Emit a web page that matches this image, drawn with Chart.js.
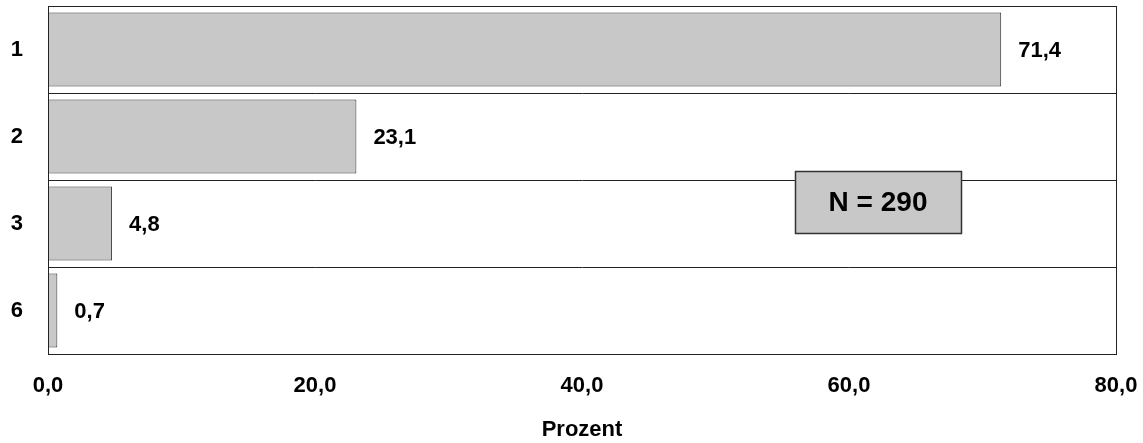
<!DOCTYPE html>
<html>
<head>
<meta charset="utf-8">
<script src="https://cdn.jsdelivr.net/npm/chart.js@4"></script>
<style>
  html, body { margin: 0; padding: 0; background: #fff; }
  #wrap { width: 1143px; height: 443px; position: relative; }
</style>
</head>
<body>
<div id="wrap"><canvas id="c" width="1143" height="443"></canvas></div>
<script>
// ---- data ----
const categories = ['1', '2', '3', '6'];
const values = [71.4, 23.1, 4.8, 0.7];
const xTickValues = [0, 20, 40, 60, 80];
const axisTitle = 'Prozent';
const noteText = 'N = 290';
// note box placement in data units: [xFrom, xTo] and [categoryIndexFrom, categoryIndexTo]
const noteX = [55.95, 68.4];
const noteY = [1.40, 2.11];

const FONT = '"Liberation Sans", Arial, sans-serif';
const fmt = v => v.toFixed(1).replace('.', ',');

const framePlugin = {
  id: 'frame',
  afterDatasetsDraw(chart) {
    const { ctx, chartArea: a, scales } = chart;
    const x = scales.x, y = scales.y;
    ctx.save();
    // data labels
    ctx.font = 'bold 22px ' + FONT;
    ctx.fillStyle = '#000';
    ctx.textAlign = 'left';
    ctx.textBaseline = 'middle';
    chart.getDatasetMeta(0).data.forEach((el, i) => {
      ctx.fillText(fmt(values[i]), el.x + 17, el.y + 1);
    });
    // frame
    ctx.strokeStyle = '#222';
    ctx.lineWidth = 1;
    ctx.strokeRect(Math.round(a.left) + 0.5, Math.round(a.top) + 0.5,
                   Math.round(a.right - a.left), Math.round(a.bottom - a.top));
    // note box
    const x1 = x.getPixelForValue(noteX[0]), x2 = x.getPixelForValue(noteX[1]);
    const y1 = y.getPixelForValue(noteY[0]), y2 = y.getPixelForValue(noteY[1]);
    ctx.fillStyle = '#c8c8c8';
    ctx.fillRect(x1, y1, x2 - x1, y2 - y1);
    ctx.strokeStyle = '#333';
    ctx.lineWidth = 1.5;
    ctx.strokeRect(Math.round(x1) + 0.5, Math.round(y1) + 0.5, Math.round(x2 - x1), Math.round(y2 - y1));
    ctx.fillStyle = '#000';
    ctx.font = 'bold 28px ' + FONT;
    ctx.textAlign = 'center';
    ctx.fillText(noteText, (x1 + x2) / 2, (y1 + y2) / 2 + 1);
    ctx.restore();
  }
};

new Chart(document.getElementById('c'), {
  type: 'bar',
  data: {
    labels: categories,
    datasets: [{
      data: values,
      backgroundColor: '#c8c8c8',
      borderColor: '#333',
      borderWidth: 1,
      barPercentage: 0.85,
      categoryPercentage: 1.0
    }]
  },
  options: {
    indexAxis: 'y',
    responsive: false,
    animation: false,
    layout: { padding: { top: 6, right: 27, bottom: 0, left: 0 } },
    plugins: { legend: { display: false }, tooltip: { enabled: false } },
    scales: {
      x: {
        type: 'linear',
        min: 0, max: 80,
        afterBuildTicks(scale) { scale.ticks = xTickValues.map(v => ({ value: v })); },
        afterFit(scale) { scale.height = 89; scale.paddingLeft = 0; scale.paddingRight = 0; },
        grid: { display: false, drawTicks: false },
        border: { display: true, color: '#222', width: 1 },
        ticks: {
          padding: 19,
          color: '#000',
          font: { family: FONT, size: 22, weight: 'bold' },
          maxRotation: 0,
          callback: v => fmt(v)
        },
        title: {
          display: true,
          text: axisTitle,
          color: '#000',
          font: { family: FONT, size: 22, weight: 'bold' },
          padding: { top: 17, bottom: 0 }
        }
      },
      y: {
        type: 'category',
        afterFit(scale) { scale.width = 48; scale.paddingTop = 0; scale.paddingBottom = 0; },
        grid: { display: true, offset: true, color: '#222', lineWidth: 1, drawTicks: false },
        border: { display: true, color: '#222', width: 1 },
        ticks: {
          padding: 25,
          color: '#000',
          font: { family: FONT, size: 22, weight: 'bold' }
        }
      }
    }
  },
  plugins: [framePlugin]
});
</script>
</body>
</html>
